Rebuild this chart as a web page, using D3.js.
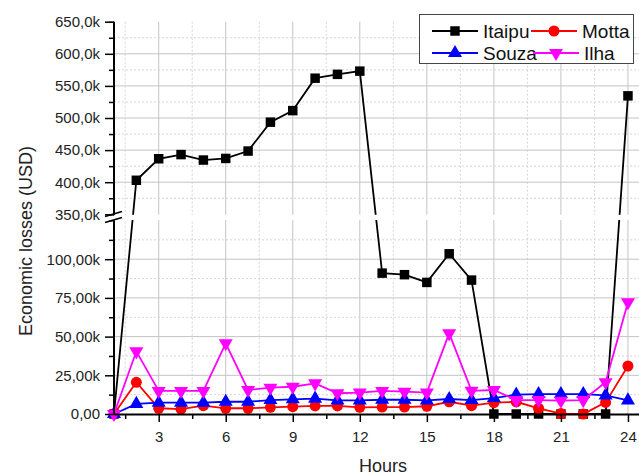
<!DOCTYPE html>
<html>
<head>
<meta charset="utf-8">
<script src="https://cdn.jsdelivr.net/npm/d3@7"></script>
<style>
  body { margin: 0; background: #fff; }
  svg { display: block; font-family: "Liberation Sans", Arial, sans-serif; }
  .grid-major { stroke: #c4c4c4; stroke-width: 1; }
  .grid-minor { stroke: #d4d4d4; stroke-width: 1; stroke-dasharray: 2,2; }
  .axis path, .axis line { stroke: #000; }
  .axis text { font-size: 15px; fill: #222; }
</style>
</head>
<body>
<svg id="chart" width="639" height="476"></svg>
<script>
// Hours 1..24
const hours = d3.range(1, 25);

// Economic losses (USD) per hour
const itaipu = [0, 403000, 436500, 443000, 434500, 437000, 448500, 493500, 511500, 562000, 568000, 573000,
  91000, 90000, 85000, 103500, 86500, 0, 0, 0, 0, 0, 0, 534500];
const motta = [0, 20500, 3700, 3200, 5400, 3700, 3700, 4300, 4700, 5200, 5200, 4300,
  4500, 4500, 5000, 7900, 5400, 7300, 7900, 3700, 300, 0, 7500, 31000];
const souza = [0, 6500, 7300, 7300, 7300, 7900, 7900, 9000, 9500, 9900, 8800, 8800,
  9200, 9200, 8800, 9700, 9000, 10300, 12500, 12900, 12900, 12900, 12000, 8800];
const ilha = [0, 40500, 14900, 14900, 14900, 45700, 15500, 17000, 17600, 19800, 13400, 13800,
  14900, 14400, 13800, 52100, 15000, 15500, 9000, 9000, 8600, 9000, 20500, 72200];

const xTicks = [3, 6, 9, 12, 15, 18, 21, 24];
const lowTicks = [0, 25000, 50000, 75000, 100000];
const lowLabels = ["0,00", "25,00k", "50,00k", "75,00k", "100,00k"];
const highTicks = [350000, 400000, 450000, 500000, 550000, 600000, 650000];
const highLabels = ["350,0k", "400,0k", "450,0k", "500,0k", "550,0k", "600,0k", "650,0k"];

const series = [
  { name: "Itaipu", values: itaipu, color: "#000000", marker: "square" },
  { name: "Motta", values: motta, color: "#ff0000", marker: "circle" },
  { name: "Souza", values: souza, color: "#0000ff", marker: "triangle" },
  { name: "Ilha", values: ilha, color: "#ff00ff", marker: "triangleDown" }
];

const svg = d3.select("#chart");

const x = d3.scaleLinear().domain([1, 25]).range([114, 650.3]);
const yLow = d3.scaleLinear().domain([0, 125000]).range([414, 220.5]);
const yHigh = d3.scaleLinear().domain([350000, 650000]).range([214.3, 21.7]);
const y = v => v <= 125000 ? yLow(v) : yHigh(v);

const left = 114, right = 650, bottom = 414;

// grid
const g = svg.append("g");
const minorX = d3.range(1.5, 25, 3);
g.selectAll(".vmin").data(minorX).enter().append("line")
  .attr("class", "grid-minor")
  .attr("x1", d => x(d)).attr("x2", d => x(d))
  .attr("y1", 21.7).attr("y2", bottom);
g.selectAll(".vmaj").data(xTicks).enter().append("line")
  .attr("class", "grid-major")
  .attr("x1", d => x(d)).attr("x2", d => x(d))
  .attr("y1", 21.7).attr("y2", bottom);

const lowMinor = [12500, 37500, 62500, 87500, 112500];
const highMinor = [375000, 425000, 475000, 525000, 575000, 625000];
g.selectAll(".hmin").data(lowMinor.map(yLow).concat(highMinor.map(yHigh))).enter().append("line")
  .attr("class", "grid-minor")
  .attr("x1", left).attr("x2", right).attr("y1", d => d).attr("y2", d => d);
g.selectAll(".hmaj").data(lowTicks.slice(1).map(yLow).concat(highTicks.slice(1, -1).map(yHigh))).enter().append("line")
  .attr("class", "grid-major")
  .attr("x1", left).attr("x2", right).attr("y1", d => d).attr("y2", d => d);

// lines and markers
const line = d3.line().x((d, i) => x(hours[i])).y(d => y(d));
const symbolType = {
  square: d3.symbolSquare, circle: d3.symbolCircle,
  triangle: d3.symbolTriangle, triangleDown: d3.symbolTriangle
};
const symbolSize = { square: 90, circle: 95, triangle: 85, triangleDown: 85 };

series.forEach(s => {
  svg.append("path")
    .datum(s.values)
    .attr("fill", "none")
    .attr("stroke", s.color)
    .attr("stroke-width", 1.8)
    .attr("d", line);
  svg.append("g").selectAll("path").data(s.values).enter().append("path")
    .attr("d", d3.symbol().type(symbolType[s.marker]).size(symbolSize[s.marker]))
    .attr("fill", s.color)
    .attr("transform", (d, i) => `translate(${x(hours[i])},${y(d)})${s.marker === "triangleDown" ? " rotate(180)" : ""}`);
});

// gap of the broken axis
svg.append("rect")
  .attr("x", 100).attr("y", 214.8).attr("width", 560).attr("height", 5.2)
  .attr("fill", "#fff");

// axes
const axLow = svg.append("g").attr("class", "axis").attr("transform", `translate(${left},0)`)
  .call(d3.axisLeft(yLow).tickValues(lowTicks).tickFormat((d, i) => lowLabels[i]).tickSize(9).tickPadding(5));
const axHigh = svg.append("g").attr("class", "axis").attr("transform", `translate(${left},0)`)
  .call(d3.axisLeft(yHigh).tickValues(highTicks).tickFormat((d, i) => highLabels[i]).tickSize(9).tickPadding(5));
svg.append("g").attr("class", "axis").attr("transform", `translate(${left},0)`)
  .call(d3.axisLeft(yLow).tickValues(lowMinor).tickFormat("").tickSize(5));
svg.append("g").attr("class", "axis").attr("transform", `translate(${left},0)`)
  .call(d3.axisLeft(yHigh).tickValues(highMinor).tickFormat("").tickSize(5));
[axLow, axHigh].forEach(a => {
  a.select(".domain").remove();
});
svg.append("line").attr("x1", left).attr("x2", left).attr("y1", yLow(0) + 1).attr("y2", yLow(125000))
  .attr("stroke", "#000").attr("stroke-width", 2);
svg.append("line").attr("x1", left).attr("x2", left).attr("y1", yHigh(350000)).attr("y2", yHigh(650000))
  .attr("stroke", "#000").attr("stroke-width", 2);
svg.selectAll(".axis .tick line").attr("stroke-width", 1.5);

const axX = svg.append("g").attr("class", "axis").attr("transform", `translate(0,${bottom})`)
  .call(d3.axisBottom(x).tickValues(xTicks).tickSize(8).tickSizeOuter(0).tickPadding(9));
axX.select(".domain").attr("stroke-width", 2);
axX.selectAll(".tick line").attr("stroke-width", 1.5);
svg.append("g").attr("class", "axis").attr("transform", `translate(0,${bottom})`)
  .call(d3.axisBottom(x).tickValues(minorX).tickFormat("").tickSize(5).tickSizeOuter(0))
  .call(a => a.select(".domain").remove())
  .selectAll(".tick line").attr("stroke-width", 1.5);

// break marks
[[216.5, 211.5], [222.5, 217.5]].forEach(([y1, y2]) => {
  svg.append("line").attr("x1", 105).attr("y1", y1).attr("x2", 122).attr("y2", y2)
    .attr("stroke", "#000").attr("stroke-width", 1.8);
});

// axis titles
svg.append("text").attr("x", 383).attr("y", 472).attr("text-anchor", "middle")
  .attr("font-size", 18).attr("fill", "#222").text("Hours");
svg.append("text").attr("transform", "translate(32,241) rotate(-90)").attr("text-anchor", "middle")
  .attr("font-size", 18).attr("fill", "#222").text("Economic losses (USD)");

// legend
const lg = svg.append("g");
lg.append("rect").attr("x", 419.5).attr("y", 14.5).attr("width", 214).attr("height", 49)
  .attr("fill", "#fff").attr("stroke", "#444").attr("stroke-width", 1);
const legendPos = [[432, 31], [531, 31], [432, 53], [533, 53]];
series.forEach((s, i) => {
  const [lx, ly] = legendPos[i];
  lg.append("line").attr("x1", lx).attr("x2", lx + 46).attr("y1", ly).attr("y2", ly)
    .attr("stroke", s.color).attr("stroke-width", 1.8);
  lg.append("path")
    .attr("d", d3.symbol().type(symbolType[s.marker]).size(symbolSize[s.marker]))
    .attr("fill", s.color)
    .attr("transform", `translate(${lx + 23},${ly})${s.marker === "triangleDown" ? " rotate(180)" : ""}`);
  lg.append("text").attr("x", lx + 51).attr("y", ly + 7).attr("font-size", 19).attr("fill", "#111").text(s.name);
});
</script>
</body>
</html>
